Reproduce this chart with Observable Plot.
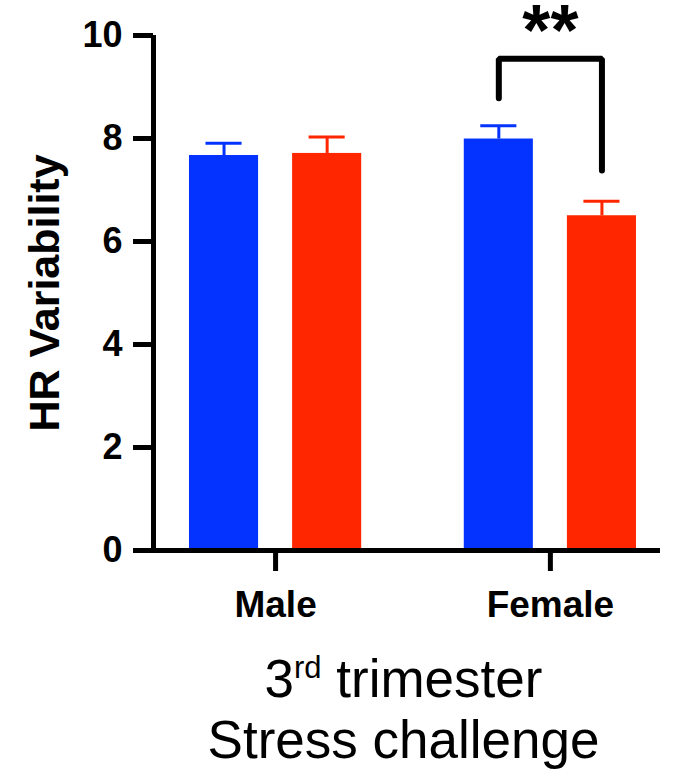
<!DOCTYPE html>
<html><head><meta charset="utf-8">
<script src="https://cdn.jsdelivr.net/npm/d3@7"></script>
<script src="https://cdn.jsdelivr.net/npm/@observablehq/plot@0.6"></script>
<style>
body{margin:0;background:#fff;font-family:"Liberation Sans",Arial,sans-serif;}
#caption{width:679px;box-sizing:border-box;padding-left:128px;text-align:center;font-size:53px;line-height:61px;color:#000;margin-top:8px;}
#caption sup{font-size:31px;line-height:0;vertical-align:19px;}
</style></head><body>
<div id="chart"></div>
<div id="caption">3<sup>rd</sup> trimester<br>Stress challenge</div>
<script>
// ---- data ----
const groups = ["Male", "Female"];
const series = ["Control", "Stress"];
const meanControl = [7.67, 7.99];
const meanStress = [7.71, 6.50];
const semControl = [0.24, 0.26];
const semStress = [0.32, 0.28];
const yTicks = [0, 2, 4, 6, 8, 10];
const yLabel = "HR Variability";
const sigGroup = "Female";
const sigLabel = "**";
const bracketSeries = ["Control", "Control", "Stress", "Stress"];
const bracketY = [8.78, 9.55, 9.55, 7.38];
const sigY = 10.62;

// ---- styles / layout ----
const colors = ["#0433FF", "#FF2600"];
const GROUP_STEP = 2.665;   // distance between group starts, in bar-slot units
const BAR_W = 0.67;
const CAP_W = 0.35;
const pos = (g, s) => groups.indexOf(g) * GROUP_STEP + series.indexOf(s);

const rows = [];
groups.forEach((g, i) => {
  rows.push({group: g, series: series[0], mean: meanControl[i], sem: semControl[i], pos: pos(g, series[0])});
  rows.push({group: g, series: series[1], mean: meanStress[i], sem: semStress[i], pos: pos(g, series[1])});
});
const groupCenters = groups.map(g => (pos(g, series[0]) + pos(g, series[1])) / 2);
const bracketPts = bracketSeries.map((s, i) => ({x: pos(sigGroup, s), y: bracketY[i]}));
const sigX = (pos(sigGroup, series[0]) + pos(sigGroup, series[1])) / 2;
const xDomain = [-0.684, 4.233];
const font = "Liberation Sans, Arial, sans-serif";

const chart = Plot.plot({
  width: 679,
  height: 640,
  marginLeft: 153,
  marginRight: 19,
  marginTop: 35,
  marginBottom: 90,
  style: {fontFamily: font, color: "#000", background: "#fff"},
  x: {domain: xDomain, axis: null},
  y: {domain: [0, 10], axis: null},
  color: {domain: series, range: colors},
  marks: [
    Plot.rectY(rows, {x1: d => d.pos - BAR_W / 2, x2: d => d.pos + BAR_W / 2, y1: 0, y2: "mean", fill: "series"}),
    Plot.ruleX(rows, {x: "pos", y1: "mean", y2: d => d.mean + d.sem, stroke: "series", strokeWidth: 3}),
    Plot.ruleY(rows, {y: d => d.mean + d.sem, x1: d => d.pos - CAP_W / 2, x2: d => d.pos + CAP_W / 2, stroke: "series", strokeWidth: 3}),
    Plot.axisY({ticks: yTicks, tickSize: 20, tickPadding: 11, strokeWidth: 5, fontSize: 36, fontWeight: "bold", fontFamily: font, label: null}),
    Plot.ruleX([xDomain[0]], {y1: 0, y2: 10, strokeWidth: 5}),
    Plot.ruleY([0], {strokeWidth: 5}),
    Plot.axisX({ticks: groupCenters, tickFormat: (d, i) => groups[i], tickSize: 21, tickPadding: 19, strokeWidth: 5, fontSize: 37, fontWeight: "bold", fontFamily: font, label: null}),
    Plot.text([yLabel], {frameAnchor: "left", textAnchor: "middle", rotate: -90, dx: -108, fontSize: 43, fontWeight: "bold", fontFamily: font}),
    Plot.line(bracketPts, {x: "x", y: "y", strokeWidth: 6, strokeLinecap: "round", strokeLinejoin: "miter"}),
    Plot.text([sigLabel], {x: sigX, y: sigY, lineAnchor: "top", fontSize: 72, fontWeight: "bold", fontFamily: font})
  ]
});
document.getElementById("chart").appendChild(chart);
</script>
</body></html>
